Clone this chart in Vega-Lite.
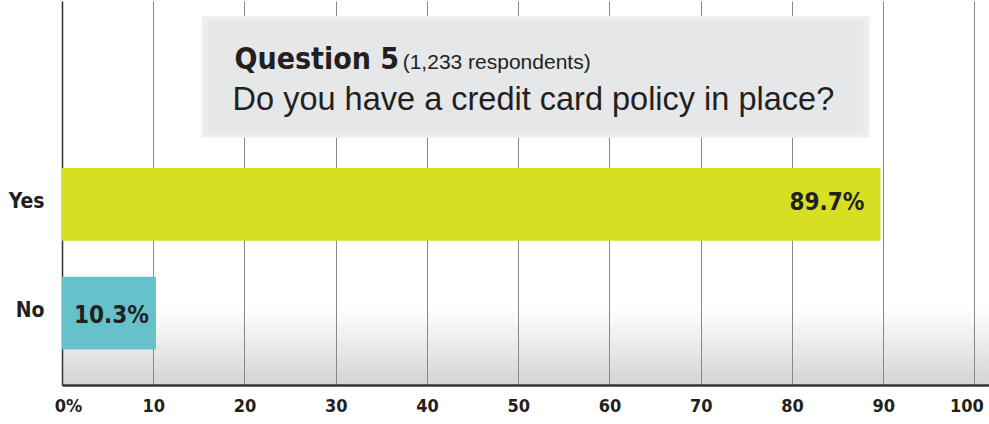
{
  "$schema": "https://vega.github.io/schema/vega-lite/v6.json",
  "width": 927,
  "height": 384,
  "autosize": "none",
  "padding": {"left": 62, "top": 1, "right": 0, "bottom": 39},
  "background": "white",
  "config": {
    "view": {"stroke": null, "fill": {"gradient": "linear", "x1": 0, "y1": 0, "x2": 0, "y2": 1, "stops": [{"offset": 0, "color": "#ffffff"}, {"offset": 0.8, "color": "#ffffff"}, {"offset": 1, "color": "#d3d4d6"}]}},
    "font": "Liberation Sans"
  },
  "layer": [
    {
      "layer": [
        {
          "data": {"values": [{"answer": "Yes", "pct": 89.7, "label": "89.7%"}, {"answer": "No", "pct": 10.3, "label": "10.3%"}]},
          "mark": {"type": "bar"},
          "encoding": {
            "y": {"field": "answer", "type": "nominal", "sort": ["Yes", "No"],
              "scale": {"domain": ["Yes", "No"], "paddingInner": 0.33, "paddingOuter": 0.93, "align": 0.825},
              "axis": {"title": null, "ticks": false, "domainColor": "#333333", "domainWidth": 1.5, "labelPadding": 18,
                "labelFont": "'DejaVu Sans Condensed', Roboto, sans-serif", "labelFontWeight": "bold", "labelFontSize": 21, "labelColor": "#231f20", "labelOffset": -2, "grid": false}},
            "x": {"field": "pct", "type": "quantitative", "scale": {"domain": [0, 101.6], "nice": false, "zero": true},
              "axis": {"title": null, "values": [0, 10, 20, 30, 40, 50, 60, 70, 80, 90, 100], "ticks": false, "grid": true,
                "gridColor": "#888888", "gridWidth": 1, "domainColor": "#333333", "domainWidth": 2.5,
                "labelFont": "'DejaVu Sans Condensed', Roboto, sans-serif", "labelFontWeight": "bold", "labelFontSize": 18, "labelColor": "#231f20",
                "labelPadding": 12, "labelFlush": false,
                "labelExpr": "datum.value == 0 ? '0%' : datum.label",
                "labelOffset": {"expr": "datum.value == 0 ? 6 : datum.value == 100 ? -8 : 0"}}},
            "color": {"field": "answer", "type": "nominal", "scale": {"domain": ["Yes", "No"], "range": ["#d6df22", "#66c1cb"]}, "legend": null}
          }
        },
        {
          "data": {"values": [{"answer": "Yes", "pct": 89.7, "label": "89.7%"}]},
          "mark": {"type": "text", "align": "right", "baseline": "alphabetic", "dx": -16, "dy": 6, "font": "'DejaVu Sans Condensed', Roboto, sans-serif", "fontWeight": "bold", "fontSize": 24, "color": "#231f20"},
          "encoding": {
            "y": {"field": "answer", "type": "nominal"},
            "x": {"field": "pct", "type": "quantitative"},
            "text": {"field": "label"}
          }
        },
        {
          "data": {"values": [{"answer": "No", "pct": 10.3, "label": "10.3%"}]},
          "mark": {"type": "text", "align": "left", "baseline": "alphabetic", "dx": 12, "dy": 10, "font": "'DejaVu Sans Condensed', Roboto, sans-serif", "fontWeight": "bold", "fontSize": 24, "color": "#231f20"},
          "encoding": {
            "y": {"field": "answer", "type": "nominal"},
            "x": {"datum": 0, "type": "quantitative"},
            "text": {"field": "label"}
          }
        }
      ]
    },
    {
      "layer": [
        {
          "data": {"values": [{"part": "box"}]},
          "mark": {"type": "rect", "color": "#f0f0f1"},
          "encoding": {
            "x": {"datum": 15.30, "type": "quantitative"}, "x2": {"datum": 88.54},
            "y": {"datum": 0.961, "type": "quantitative", "scale": {"domain": [0, 1], "nice": false, "zero": false}, "axis": null}, "y2": {"datum": 0.644}
          }
        },
        {
          "data": {"values": [{"part": "box"}]},
          "mark": {"type": "rect", "color": "#eaebec"},
          "encoding": {
            "x": {"datum": 15.62, "type": "quantitative"}, "x2": {"datum": 88.21},
            "y": {"datum": 0.953, "type": "quantitative"}, "y2": {"datum": 0.652}
          }
        },
        {
          "data": {"values": [{"part": "box"}]},
          "mark": {"type": "rect", "color": "#e6e7e8"},
          "encoding": {
            "x": {"datum": 16.06, "type": "quantitative"}, "x2": {"datum": 87.78},
            "y": {"datum": 0.943, "type": "quantitative"}, "y2": {"datum": 0.662}
          }
        },
        {
          "data": {"values": [{"text": "Question 5"}]},
          "mark": {"type": "text", "align": "left", "baseline": "alphabetic", "font": "'DejaVu Sans Condensed', Roboto, sans-serif", "fontWeight": "bold", "fontSize": 30, "color": "#231f20"},
          "encoding": {
            "x": {"datum": 18.91, "type": "quantitative"},
            "y": {"datum": 0.823, "type": "quantitative"},
            "text": {"field": "text"}
          }
        },
        {
          "data": {"values": [{"text": "(1,233 respondents)"}]},
          "mark": {"type": "text", "align": "left", "baseline": "alphabetic", "font": "Liberation Sans", "fontSize": 21, "color": "#231f20"},
          "encoding": {
            "x": {"datum": 37.34, "type": "quantitative"},
            "y": {"datum": 0.823, "type": "quantitative"},
            "text": {"field": "text"}
          }
        },
        {
          "data": {"values": [{"text": "Do you have a credit card policy in place?"}]},
          "mark": {"type": "text", "align": "left", "baseline": "alphabetic", "font": "Liberation Sans", "fontSize": 32.5, "color": "#231f20"},
          "encoding": {
            "x": {"datum": 18.70, "type": "quantitative"},
            "y": {"datum": 0.7165, "type": "quantitative"},
            "text": {"field": "text"}
          }
        }
      ]
    }
  ],
  "resolve": {"scale": {"y": "independent"}}
}
